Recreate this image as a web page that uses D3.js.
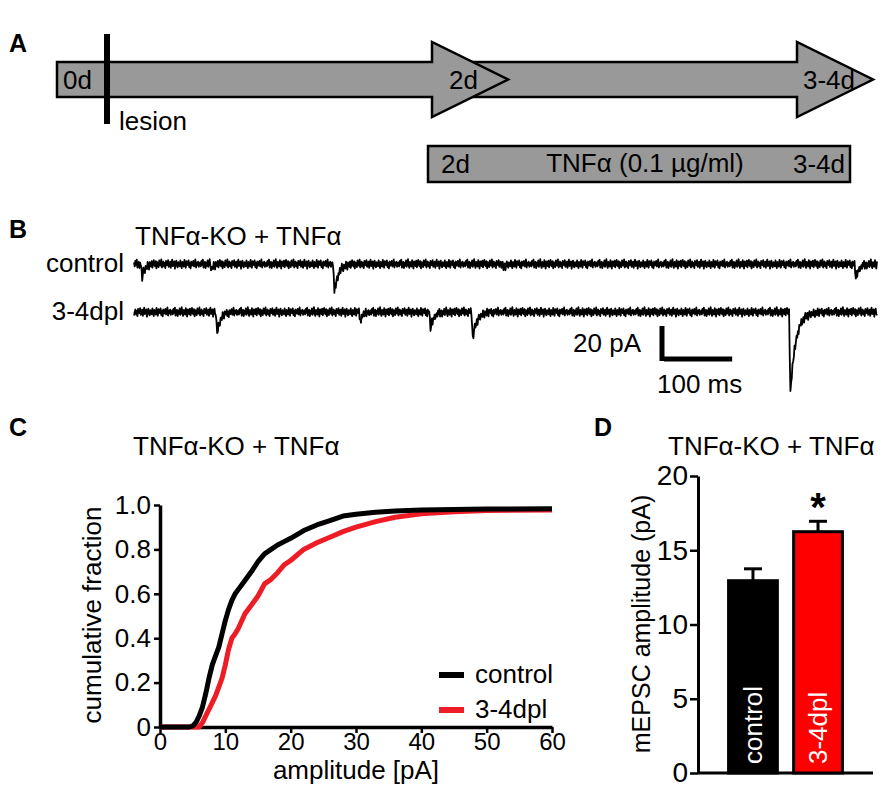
<!DOCTYPE html>
<html>
<head>
<meta charset="utf-8">
<script src="https://cdn.jsdelivr.net/npm/d3@7/dist/d3.min.js"></script>
<style>
  html, body { margin: 0; padding: 0; background: #fff; }
  svg { display: block; font-family: "Liberation Sans", Arial, sans-serif; }
</style>
</head>
<body>
<script>
// ---------------- DATA ----------------
// Panel A: timeline (days)
const timelineLabels = ["0d", "2d", "3-4d"];
const treatmentLabels = ["2d", "TNFα (0.1 µg/ml)", "3-4d"];

// Panel B: example traces, events as [time ms, amplitude pA, decay tau ms]
const traceDuration = 1090; // ms
const controlEvents = [[10, 8.5, 4], [112, 3, 3], [292, 17, 6], [540, 2.5, 3], [1057, 8.5, 5]];
const dplEvents = [[120, 13, 5], [330, 5, 4], [433, 10, 5], [495, 16, 6], [961, 49, 8]];
// hand-read baseline noise texture (pA), cycled along the trace
const noisePattern = [0.8,-1.2,1.5,-0.4,2.1,-1.8,0.3,1.1,-2.0,0.6,-0.9,1.7,-1.4,0.2,2.3,-0.7,-1.9,1.0,0.4,-1.3,
  1.9,-0.2,-2.2,1.3,0.7,-1.0,1.6,-1.6,0.1,2.0,-0.5,-1.1,1.4,-2.1,0.9,0.5,-1.5,1.8,-0.3,-0.8,
  2.2,-1.7,0.0,1.2,-1.2,0.6,-2.0,1.5,0.3,-0.6,1.9,-1.4,-0.1,1.1,-1.9,0.8,2.1,-1.0,-0.4,1.3,
  -2.3,0.4,1.6,-0.9,-1.6,0.9,0.2,-1.1,1.8,-0.7,-2.0,1.0,0.5,-1.3,2.0,-0.2,-1.8,1.4,0.1,-0.5,
  1.7,-1.5,0.6,-2.1,1.2,-0.8,0.3,1.5,-1.2,-0.3,2.2,-1.7,0.7,-0.6,1.1,-1.4,0.0];
const scaleBarPA = 20, scaleBarMS = 100;

// Panel C: cumulative distributions
const controlAmp  = [0, 4.5, 5, 5.5, 6, 6.5, 7, 7.5, 8, 8.5, 9, 9.5, 10, 10.5, 11, 11.5, 12, 13, 14, 15, 16, 17, 18, 19, 20, 22, 24, 26, 28, 30, 33, 36, 40, 45, 50, 60];
const controlFrac = [0, 0, 0.005, 0.02, 0.05, 0.09, 0.15, 0.22, 0.28, 0.32, 0.36, 0.42, 0.48, 0.53, 0.57, 0.60, 0.62, 0.66, 0.70, 0.745, 0.78, 0.80, 0.82, 0.835, 0.85, 0.885, 0.91, 0.93, 0.95, 0.958, 0.967, 0.973, 0.978, 0.98, 0.982, 0.983];
const dplAmp  = [0, 6, 6.5, 7, 7.5, 8, 8.5, 9, 9.5, 10, 10.5, 11, 11.5, 12, 13, 14, 15, 16, 17, 18, 19, 20, 22, 24, 26, 28, 30, 33, 36, 40, 45, 50, 60];
const dplFrac = [0, 0, 0.02, 0.05, 0.08, 0.11, 0.14, 0.18, 0.22, 0.28, 0.35, 0.40, 0.42, 0.445, 0.51, 0.55, 0.59, 0.645, 0.665, 0.695, 0.73, 0.75, 0.80, 0.83, 0.855, 0.88, 0.90, 0.925, 0.945, 0.96, 0.97, 0.975, 0.978];
const cdfXTicks = [0, 10, 20, 30, 40, 50, 60];
const cdfYTicks = [0, 0.2, 0.4, 0.6, 0.8, 1.0];

// Panel D: bar chart
const barGroups = ["control", "3-4dpl"];
const barMeans = [12.95, 16.25];
const barSEM = [0.8, 0.7];
const barYTicks = [0, 5, 10, 15, 20];

const title = "TNFα-KO + TNFα";
const FS = 26;

// ---------------- DRAW ----------------
const svg = d3.select("body").append("svg").attr("width", 892).attr("height", 795);
svg.append("rect").attr("width", 892).attr("height", 795).attr("fill", "#fff");

function panelLabel(t, x, y) {
  svg.append("text").attr("x", x).attr("y", y).attr("font-size", 25).attr("font-weight", "bold").text(t);
}

// ===== Panel A =====
panelLabel("A", 9, 52);
const grey = "#999999";
const dayX = d3.scaleLinear().domain([0, 2, 3.5]).range([57, 432, 797]);
const bodyTop = 62, bodyBot = 97, headTop = 42, headBot = 117, headLen = 76;
const midY = (bodyTop + bodyBot) / 2;
function arrowPath(x0, xBack) {
  return `M${x0},${bodyTop}L${xBack},${bodyTop}L${xBack},${headTop}L${xBack + headLen},${midY}L${xBack},${headBot}L${xBack},${bodyBot}L${x0},${bodyBot}Z`;
}
svg.append("path").attr("d", arrowPath(dayX(2) + 34, dayX(3.5))).attr("fill", grey).attr("stroke", "#000").attr("stroke-width", 2.5).attr("stroke-linejoin", "miter");
svg.append("path").attr("d", arrowPath(dayX(0), dayX(2))).attr("fill", grey).attr("stroke", "#000").attr("stroke-width", 2.5).attr("stroke-linejoin", "miter");
// lesion marker
svg.append("line").attr("x1", 107).attr("x2", 107).attr("y1", 34).attr("y2", 124).attr("stroke", "#000").attr("stroke-width", 6);
svg.append("text").attr("x", 119).attr("y", 130).attr("font-size", FS).text("lesion");
svg.append("text").attr("x", 63).attr("y", 89).attr("font-size", FS).text(timelineLabels[0]);
svg.append("text").attr("x", 449).attr("y", 89).attr("font-size", FS).text(timelineLabels[1]);
svg.append("text").attr("x", 803).attr("y", 89).attr("font-size", FS).text(timelineLabels[2]);
// treatment box
svg.append("rect").attr("x", 428).attr("y", 146).attr("width", 422).attr("height", 36).attr("fill", grey).attr("stroke", "#000").attr("stroke-width", 2.5);
svg.append("text").attr("x", 441).attr("y", 173).attr("font-size", FS).text(treatmentLabels[0]);
svg.append("text").attr("x", 645).attr("y", 172).attr("font-size", FS).attr("text-anchor", "middle").text(treatmentLabels[1]);
svg.append("text").attr("x", 845).attr("y", 173).attr("font-size", FS).attr("text-anchor", "end").text(treatmentLabels[2]);

// ===== Panel B =====
panelLabel("B", 9, 238);
svg.append("text").attr("x", 135).attr("y", 245).attr("font-size", FS).text(title);
const xT = d3.scaleLinear().domain([0, traceDuration]).range([134, 877]);
const pxPerPA = 1.65;
function buildTrace(events, offset) {
  const pts = [];
  for (let t = 0; t <= traceDuration; t += 1) {
    let v = noisePattern[(t + offset) % noisePattern.length] * 1.25;
    for (const [t0, amp, tau] of events) {
      if (t >= t0) {
        const dt = t - t0;
        v -= dt < 2 ? amp * dt / 2 : amp * Math.exp(-(dt - 2) / tau);
      }
    }
    pts.push([t, v]);
  }
  return pts;
}
function drawTrace(events, base, offset, label) {
  const y = d3.scaleLinear().domain([0, -scaleBarPA]).range([base, base + scaleBarPA * pxPerPA]);
  const line = d3.line().x(d => xT(d[0])).y(d => y(d[1]));
  svg.append("path").attr("d", line(buildTrace(events, offset))).attr("fill", "none").attr("stroke", "#000").attr("stroke-width", 1.8).attr("stroke-linejoin", "round");
  svg.append("text").attr("x", 124).attr("y", base + 8).attr("font-size", FS).attr("text-anchor", "end").text(label);
  return y;
}
const yCtrl = drawTrace(controlEvents, 264, 0, "control");
const yDpl = drawTrace(dplEvents, 312, 41, "3-4dpl");
// scale bar
const sbX = 662, sbY = 359;
const sbH = yDpl(-scaleBarPA) - yDpl(0);
const sbW = xT(scaleBarMS) - xT(0);
svg.append("line").attr("x1", sbX).attr("x2", sbX).attr("y1", sbY + 2).attr("y2", sbY + 2 - sbH - 2).attr("stroke", "#000").attr("stroke-width", 5);
svg.append("line").attr("x1", sbX + 2).attr("x2", sbX + 2 + sbW).attr("y1", sbY).attr("y2", sbY).attr("stroke", "#000").attr("stroke-width", 5);
svg.append("text").attr("x", 641).attr("y", 352).attr("font-size", FS).attr("text-anchor", "end").text(scaleBarPA + " pA");
svg.append("text").attr("x", 657).attr("y", 393).attr("font-size", FS).text(scaleBarMS + " ms");

// ===== Panel C =====
panelLabel("C", 9, 436);
svg.append("text").attr("x", 133).attr("y", 455).attr("font-size", FS).text(title);
const xC = d3.scaleLinear().domain([0, 60]).range([160, 552]);
const yC = d3.scaleLinear().domain([0, 1]).range([727, 505]);
const gC = svg.append("g");
const axYC = gC.append("g").attr("transform", `translate(${xC(0)},0)`)
  .call(d3.axisLeft(yC).tickValues(cdfYTicks).tickSize(6).tickSizeOuter(0).tickPadding(3)
    .tickFormat(d => d === 0 ? "0" : d3.format(".1f")(d)));
const axXC = gC.append("g").attr("transform", `translate(0,${yC(0)})`)
  .call(d3.axisBottom(xC).tickValues(cdfXTicks).tickSize(6).tickSizeOuter(0).tickPadding(0));
[axYC, axXC].forEach(a => {
  a.select(".domain").attr("stroke-width", 3.5);
  a.selectAll(".tick line").attr("stroke-width", 2.5);
  a.selectAll("text").attr("font-size", FS).attr("fill", "#000").attr("font-family", "Liberation Sans, Arial, sans-serif");
});
axXC.selectAll("text").attr("font-size", 24);
svg.append("text").attr("transform", `translate(101,615) rotate(-90)`).attr("text-anchor", "middle").attr("font-size", FS).text("cumulative fraction");
svg.append("text").attr("x", 356).attr("y", 779).attr("text-anchor", "middle").attr("font-size", FS).text("amplitude [pA]");
const cdfLine = d3.line().x(d => xC(d[0])).y(d => yC(d[1]));
const red = "#ee1c25";
gC.append("path").attr("d", cdfLine(dplAmp.map((a, i) => [a, dplFrac[i]]))).attr("fill", "none").attr("stroke", red).attr("stroke-width", 5).attr("stroke-linejoin", "round");
gC.append("path").attr("d", cdfLine(controlAmp.map((a, i) => [a, controlFrac[i]]))).attr("fill", "none").attr("stroke", "#000").attr("stroke-width", 5).attr("stroke-linejoin", "round");
// legend
const legend = [["control", "#000", 675], ["3-4dpl", red, 710]];
legend.forEach(([lab, col, ly]) => {
  svg.append("line").attr("x1", 439).attr("x2", 464).attr("y1", ly).attr("y2", ly).attr("stroke", col).attr("stroke-width", 6);
  svg.append("text").attr("x", 475).attr("y", ly + 8).attr("font-size", FS).text(lab);
});

// ===== Panel D =====
panelLabel("D", 594, 436);
svg.append("text").attr("x", 668).attr("y", 455).attr("font-size", FS).text(title);
const yD = d3.scaleLinear().domain([0, 20]).range([773, 476]);
const xD = d3.scaleBand().domain(barGroups).range([698, 873]).paddingInner(0.25).paddingOuter(0.47);
const gD = svg.append("g");
const axYD = gD.append("g").attr("transform", "translate(698,0)")
  .call(d3.axisLeft(yD).tickValues(barYTicks).tickSize(8).tickSizeOuter(0).tickPadding(2));
axYD.select(".domain").attr("stroke-width", 3);
axYD.selectAll(".tick line").attr("stroke-width", 2.5);
axYD.selectAll("text").attr("font-size", 28).attr("fill", "#000").attr("font-family", "Liberation Sans, Arial, sans-serif");
gD.append("line").attr("x1", 698).attr("x2", 873).attr("y1", yD(0)).attr("y2", yD(0)).attr("stroke", "#000").attr("stroke-width", 3);
const barFill = ["#000", "#ff0000"];
barGroups.forEach((g, i) => {
  const cx = xD(g) + xD.bandwidth() / 2;
  // error bar (upward)
  gD.append("line").attr("x1", cx).attr("x2", cx).attr("y1", yD(barMeans[i])).attr("y2", yD(barMeans[i] + barSEM[i])).attr("stroke", "#000").attr("stroke-width", 3);
  gD.append("line").attr("x1", cx - 9).attr("x2", cx + 9).attr("y1", yD(barMeans[i] + barSEM[i])).attr("y2", yD(barMeans[i] + barSEM[i])).attr("stroke", "#000").attr("stroke-width", 3);
  gD.append("rect").attr("x", xD(g)).attr("y", yD(barMeans[i])).attr("width", xD.bandwidth()).attr("height", yD(0) - yD(barMeans[i]))
    .attr("fill", barFill[i]).attr("stroke", "#000").attr("stroke-width", 3);
  gD.append("text").attr("transform", `translate(${cx + 9},${yD(0) - 9}) rotate(-90)`).attr("font-size", FS).attr("fill", "#fff").text(g);
});
svg.append("text").attr("x", xD("3-4dpl") + xD.bandwidth() / 2).attr("y", 521).attr("text-anchor", "middle").attr("font-size", 40).attr("font-weight", "bold").text("*");
svg.append("text").attr("transform", "translate(650,624) rotate(-90)").attr("text-anchor", "middle").attr("font-size", 25).text("mEPSC amplitude (pA)");
</script>
</body>
</html>
